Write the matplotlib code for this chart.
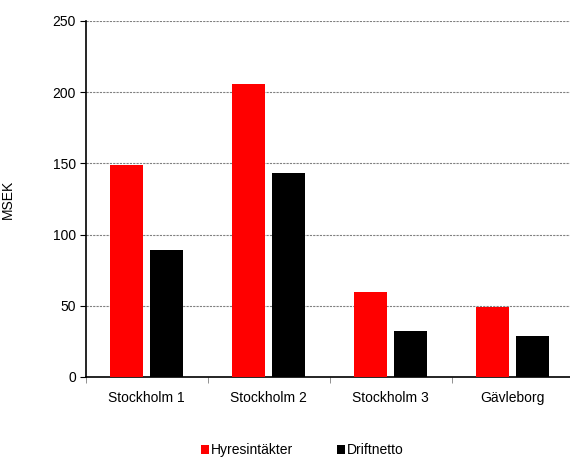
import numpy as np
import matplotlib
matplotlib.use("Agg")
import matplotlib.pyplot as plt
from matplotlib.patches import Patch

plt.rcParams['font.family'] = ['Liberation Sans', 'DejaVu Sans']

# data
regions = ['Stockholm 1', 'Stockholm 2', 'Stockholm 3', 'Gävleborg']
hyresintakter = [149, 206, 60, 49]
driftnetto = [89, 143, 32, 29]
yticks = [0, 50, 100, 150, 200, 250]

fig = plt.figure(figsize=(5.7, 4.57), dpi=100)
ax = fig.add_axes([85.5 / 570, 1 - 377 / 457, 488 / 570, 356 / 457])

x = np.arange(len(regions))
w = 0.27
ax.bar(x - 0.162, hyresintakter, w, color='#ff0000', zorder=3)
ax.bar(x + 0.162, driftnetto, w, color='#000000', zorder=3)

ax.set_xlim(-0.5, len(regions) - 0.5)
ax.set_ylim(0, 250)
ax.set_yticks(yticks)
ax.yaxis.grid(True, linestyle=(0, (2, 1)), color='#808080', linewidth=0.8, zorder=0)

ax.set_xticks(x)
ax.set_xticklabels(regions, fontsize=10)
ax.set_xticks(np.arange(-0.5, len(regions)), minor=True)
ax.tick_params(axis='x', which='major', length=0, pad=10)
ax.tick_params(axis='x', which='minor', length=4, color='#808080', direction='out')
ax.tick_params(axis='y', labelsize=10, length=4, direction='out', pad=3)

for s in ['top', 'right']:
    ax.spines[s].set_visible(False)
ax.spines['left'].set_linewidth(1.2)
ax.spines['bottom'].set_linewidth(1.2)

ax.set_ylabel('MSEK', fontsize=10)
ax.yaxis.set_label_coords(-0.144, 0.5)

handles = [Patch(facecolor='#ff0000', label='Hyresintäkter'),
           Patch(facecolor='#000000', label='Driftnetto')]
fig.legend(handles=handles, loc='center', bbox_to_anchor=(0.53, 0.015), ncol=2,
           frameon=False, fontsize=10, handlelength=0.6, handleheight=0.6,
           handletextpad=0.1, columnspacing=3.2)

fig.savefig('out.png', dpi=100)
